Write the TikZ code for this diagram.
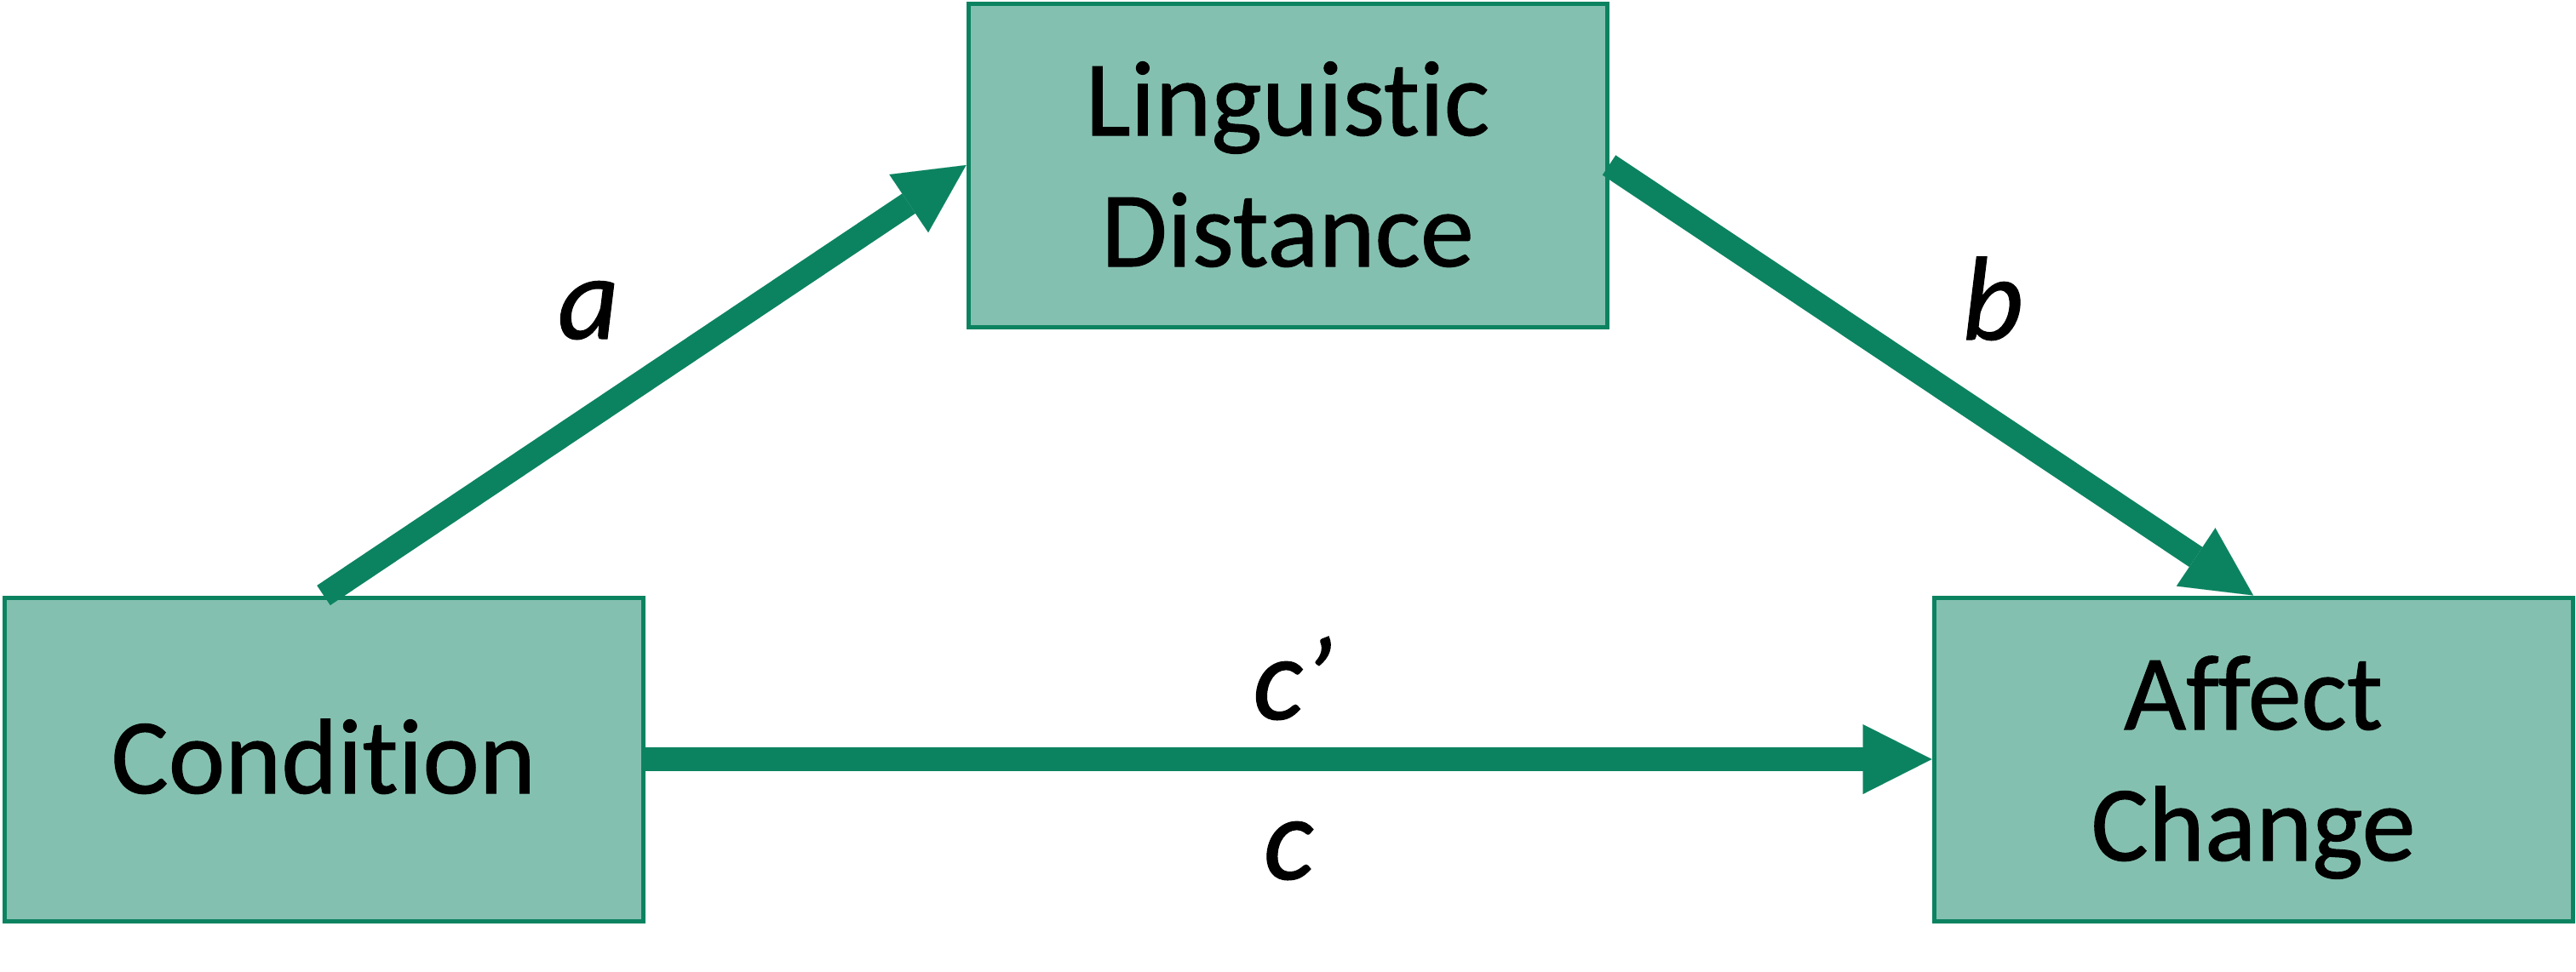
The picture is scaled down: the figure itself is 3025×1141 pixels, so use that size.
\documentclass[tikz,border=0pt]{standalone}
\usepackage{fontspec}
\setmainfont{Carlito}[Ligatures={NoCommon,NoRequired,NoContextual},FakeBold=0.8]
\usetikzlibrary{arrows.meta}
\definecolor{boxfill}{HTML}{84C0AF}
\definecolor{arrcol}{HTML}{0C8360}
\tikzset{
  varbox/.style={draw=arrcol, line width=5pt, fill=boxfill, inner sep=0pt,
    minimum width=750pt, minimum height=380pt,
    font=\fontsize{126}{154}\selectfont},
  lbl/.style={anchor=base, inner sep=0pt, font=\fontsize{140}{160}\selectfont\itshape},
  conn/.style={draw=arrcol, line width=28pt,
    -{Triangle[length=81pt,width=82pt,line width=0.01pt,fill=arrcol]}}
}
\begin{document}
\begin{tikzpicture}[x=1pt,y=-1pt]
\useasboundingbox (0,0) rectangle (3025,1141);
\node[varbox, text height=238pt, text depth=0pt] (ling) at (1512,194)
  {\begin{tabular}[b]{@{}c@{}}Linguistic\\Distance\end{tabular}};
\node[varbox, text height=80pt, text depth=0pt] (cond) at (380,892)
  {\begin{tabular}[b]{@{}c@{}}Condition\end{tabular}};
\node[varbox, text height=238pt, text depth=0pt] (aff) at (2646,892)
  {\begin{tabular}[b]{@{}c@{}}Affect\\Change\end{tabular}};
\draw[conn] (cond.north) -- (ling.west);
\draw[conn] (ling.east) -- (aff.north);
\draw[conn] (cond.east) -- (aff.west);
\node[lbl] (la) at (691,398) {a};
\node[lbl] (lb) at (2340,399) {b};
\node[lbl] (lcp) at (1518,845) {c’};
\node[lbl] (lc) at (1513,1033) {c};
\end{tikzpicture}
\end{document}
